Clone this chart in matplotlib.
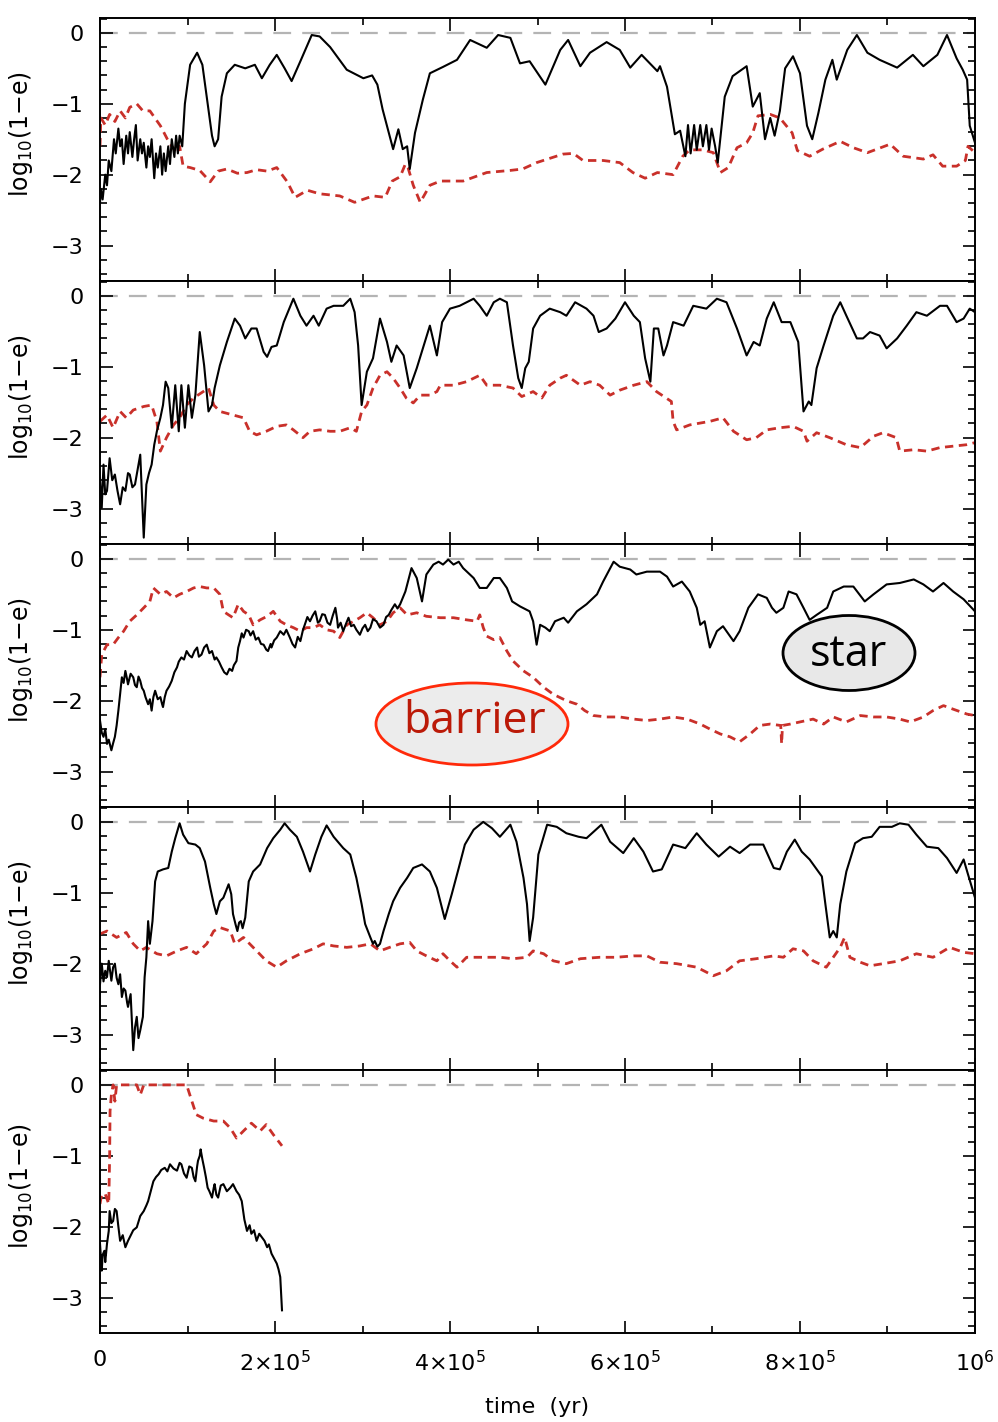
import numpy as np
import matplotlib
matplotlib.use('Agg')
import matplotlib.pyplot as plt
from matplotlib.patches import Ellipse
from matplotlib.ticker import MultipleLocator

# time in kyr, values are log10(1-e)
# ---------------- panel 1 ----------------
star_t1 = [0, 1, 3, 6, 8, 10, 13, 16, 18, 21, 23, 25, 27, 30, 32, 34, 37, 39, 41, 43, 46, 48, 50,
           53, 55, 57, 59, 62, 64, 66, 69, 71, 73, 75, 78, 80, 82, 85, 87, 89, 91, 94, 97, 103, 111,
           117, 122, 128, 131, 135, 139, 145, 154, 166, 177, 185, 194, 202, 211, 219, 229, 242, 251,
           263, 282, 301, 311, 317, 323, 335, 341, 346, 351, 354, 360, 369, 377, 392, 408, 423, 442,
           455, 469, 480, 491, 509, 526, 535, 549, 560, 579, 594, 606, 619, 637, 640, 648, 657, 663,
           669, 672, 675, 679, 682, 686, 689, 693, 696, 699, 703, 706, 714, 723, 739, 746, 754, 760,
           766, 771, 777, 783, 792, 800, 808, 814, 821, 829, 837, 842, 854, 865, 877, 891, 911, 929,
           941, 957, 968, 979, 986, 991, 994, 1000]
star_y1 = [-2.4, -2.2, -2.35, -2.0, -2.15, -1.8, -1.95, -1.5, -1.7, -1.35, -1.6, -1.5, -1.85, -1.45,
           -1.7, -1.4, -1.75, -1.5, -1.3, -1.8, -1.5, -1.7, -1.55, -1.9, -1.6, -1.75, -1.5, -2.05,
           -1.7, -1.9, -1.6, -2.0, -1.7, -1.95, -1.6, -1.85, -1.5, -1.75, -1.45, -1.7, -1.45, -1.6,
           -1.0, -0.45, -0.28, -0.45, -0.9, -1.45, -1.6, -1.5, -0.9, -0.57, -0.45, -0.5, -0.45,
           -0.64, -0.45, -0.31, -0.5, -0.68, -0.4, -0.03, -0.05, -0.2, -0.52, -0.64, -0.6, -0.73,
           -1.08, -1.64, -1.36, -1.64, -1.6, -1.92, -1.41, -0.94, -0.57, -0.48, -0.38, -0.1, -0.21,
           -0.03, -0.07, -0.43, -0.4, -0.73, -0.24, -0.1, -0.47, -0.28, -0.13, -0.24, -0.49, -0.31,
           -0.54, -0.47, -0.76, -1.43, -1.38, -1.74, -1.3, -1.7, -1.3, -1.65, -1.3, -1.6, -1.3,
           -1.65, -1.35, -1.6, -1.83, -0.9, -0.61, -0.47, -1.04, -0.85, -1.5, -1.2, -1.45, -1.1,
           -0.5, -0.33, -0.57, -1.31, -1.5, -1.13, -0.66, -0.38, -0.66, -0.24, -0.03, -0.28, -0.38,
           -0.49, -0.31, -0.47, -0.31, -0.03, -0.36, -0.52, -0.66, -1.31, -1.55]
bar_t1 = [0, 1, 6, 11, 17, 23, 29, 34, 42, 49, 57, 69, 77, 82, 88, 91, 95, 103, 114, 126, 135, 145,
          157, 168, 179, 191, 202, 214, 223, 237, 251, 274, 291, 312, 326, 334, 343, 349, 352, 358,
          366, 377, 389, 415, 442, 469, 483, 499, 529, 541, 552, 575, 594, 609, 623, 637, 655, 666,
          674, 689, 701, 709, 718, 728, 739, 746, 752, 766, 777, 791, 797, 811, 826, 846, 861, 877,
          903, 918, 941, 952, 963, 979, 989, 992, 1000]
bar_y1 = [-1.6, -1.2, -1.3, -1.15, -1.25, -1.1, -1.2, -1.05, -1.0, -1.1, -1.1, -1.31, -1.5, -1.6,
          -1.69, -1.6, -1.88, -1.9, -1.94, -2.1, -1.95, -1.92, -1.98, -1.97, -1.93, -1.95, -1.9,
          -2.1, -2.32, -2.22, -2.27, -2.3, -2.39, -2.3, -2.32, -2.09, -2.03, -1.85, -1.9, -2.15,
          -2.39, -2.15, -2.09, -2.09, -1.97, -1.94, -1.92, -1.83, -1.71, -1.7, -1.8, -1.8, -1.83,
          -1.97, -2.05, -1.97, -2.0, -1.74, -1.65, -1.65, -1.69, -1.97, -1.9, -1.62, -1.55, -1.41,
          -1.17, -1.15, -1.2, -1.41, -1.66, -1.74, -1.64, -1.53, -1.62, -1.69, -1.57, -1.74, -1.78,
          -1.72, -1.88, -1.88, -1.8, -1.6, -1.69]

# ---------------- panel 2 ----------------
star_t2 = [0, 2, 4, 6, 8, 10, 11, 14, 17, 20, 23, 26, 29, 32, 34, 37, 40, 43, 46, 50, 53, 56, 59,
           62, 65, 69, 72, 75, 78, 82, 86, 90, 93, 97, 101, 105, 109, 114, 119, 124, 128, 131, 137,
           145, 154, 160, 166, 173, 179, 187, 191, 196, 202, 210, 221, 229, 236, 244, 250, 259, 267,
           278, 286, 291, 295, 299, 305, 312, 320, 328, 333, 339, 347, 354, 362, 370, 377, 385, 391,
           400, 411, 427, 434, 442, 450, 457, 465, 472, 478, 482, 486, 490, 495, 503, 514, 526, 533,
           543, 556, 564, 570, 579, 589, 600, 610, 617, 623, 629, 633, 638, 644, 648, 655, 667, 678,
           693, 705, 716, 728, 739, 747, 754, 762, 770, 779, 789, 798, 804, 810, 813, 819, 827, 838,
           846, 853, 865, 872, 880, 891, 899, 911, 922, 933, 945, 960, 968, 979, 987, 994, 1000]
star_y2 = [-2.57, -2.99, -2.38, -2.8, -2.75, -2.45, -2.29, -2.6, -2.52, -2.75, -2.94, -2.7, -2.75,
           -2.5, -2.52, -2.7, -2.66, -2.45, -2.24, -3.41, -2.66, -2.5, -2.38, -2.1, -1.91, -1.72,
           -1.54, -1.21, -1.3, -1.86, -1.26, -1.91, -1.26, -1.86, -1.26, -1.72, -1.4, -0.51, -0.98,
           -1.63, -1.54, -1.3, -0.98, -0.65, -0.32, -0.42, -0.6, -0.46, -0.46, -0.79, -0.86, -0.72,
           -0.7, -0.37, -0.04, -0.28, -0.42, -0.28, -0.42, -0.18, -0.14, -0.14, -0.04, -0.23, -0.7,
           -1.54, -1.07, -0.88, -0.32, -0.65, -0.93, -0.7, -0.84, -1.3, -1.02, -0.7, -0.42, -0.84,
           -0.37, -0.18, -0.14, -0.04, -0.14, -0.28, -0.09, -0.04, -0.09, -0.7, -1.16, -1.3, -1.02,
           -0.93, -0.46, -0.28, -0.18, -0.23, -0.28, -0.09, -0.18, -0.28, -0.51, -0.46, -0.32,
           -0.09, -0.28, -0.37, -0.88, -1.21, -0.46, -0.46, -0.84, -0.7, -0.37, -0.42, -0.14, -0.18,
           -0.04, -0.09, -0.46, -0.84, -0.65, -0.7, -0.32, -0.09, -0.37, -0.37, -0.65, -1.63, -1.49,
           -1.54, -1.02, -0.7, -0.28, -0.09, -0.28, -0.6, -0.6, -0.51, -0.56, -0.74, -0.6, -0.42,
           -0.23, -0.28, -0.14, -0.14, -0.37, -0.32, -0.18, -0.23]
bar_t2 = [0, 8, 15, 23, 30, 38, 50, 59, 65, 69, 76, 84, 91, 99, 107, 118, 124, 130, 137, 152, 164,
          171, 179, 190, 202, 213, 221, 232, 240, 251, 263, 274, 286, 293, 299, 305, 312, 320, 328,
          335, 343, 350, 358, 366, 377, 385, 389, 404, 419, 434, 442, 457, 472, 482, 495, 505, 514,
          526, 533, 549, 560, 571, 583, 594, 610, 625, 636, 653, 655, 659, 674, 697, 712, 724, 739,
          750, 762, 777, 792, 804, 808, 819, 834, 853, 869, 884, 895, 910, 914, 930, 945, 960, 975,
          990, 1000]
bar_y2 = [-1.77, -1.68, -1.86, -1.63, -1.72, -1.61, -1.56, -1.54, -1.77, -2.19, -2.0, -1.82, -1.72,
          -1.54, -1.44, -1.35, -1.3, -1.54, -1.63, -1.68, -1.72, -1.91, -1.96, -1.91, -1.84, -1.82,
          -1.89, -2.0, -1.91, -1.89, -1.91, -1.91, -1.86, -1.91, -1.63, -1.54, -1.3, -1.12, -1.07,
          -1.16, -1.3, -1.44, -1.51, -1.4, -1.4, -1.35, -1.26, -1.26, -1.21, -1.12, -1.26, -1.26,
          -1.3, -1.42, -1.35, -1.44, -1.26, -1.16, -1.12, -1.26, -1.21, -1.26, -1.4, -1.33, -1.26,
          -1.21, -1.35, -1.49, -1.77, -1.89, -1.82, -1.77, -1.72, -1.91, -2.03, -2.0, -1.89, -1.86,
          -1.84, -1.91, -2.05, -1.93, -2.0, -2.1, -2.14, -1.98, -1.93, -2.0, -2.19, -2.17, -2.19,
          -2.14, -2.12, -2.1, -2.07]

# ---------------- panel 3 ----------------
star_t3 = [0, 2, 4, 6, 8, 10, 13, 15, 17, 19, 21, 23, 25, 27, 29, 31, 32, 35, 38, 40, 42, 44, 46,
           48, 50, 52, 55, 57, 59, 61, 63, 66, 69, 71, 72, 74, 76, 79, 82, 85, 88, 90, 93, 96, 99,
           102, 105, 108, 111, 113, 116, 119, 122, 125, 128, 131, 133, 136, 139, 142, 145, 148, 151,
           153, 156, 158, 160, 162, 164, 167, 170, 172, 175, 178, 181, 184, 187, 190, 192, 195, 196,
           199, 202, 206, 210, 213, 217, 220, 223, 226, 229, 232, 234, 237, 240, 243, 246, 249, 251,
           254, 257, 260, 263, 266, 269, 271, 272, 275, 278, 281, 284, 287, 290, 293, 297, 300, 303,
           306, 309, 312, 316, 320, 324, 327, 330, 333, 337, 340, 343, 346, 349, 356, 362, 368, 373,
           381, 387, 392, 398, 404, 410, 415, 427, 434, 442, 450, 457, 465, 471, 480, 491, 495, 499,
           503, 509, 514, 520, 530, 535, 545, 556, 568, 575, 587, 594, 606, 613, 625, 640, 648, 655,
           665, 674, 682, 686, 691, 697, 705, 712, 724, 731, 741, 752, 762, 768, 773, 781, 787, 796,
           804, 811, 819, 831, 838, 850, 861, 874, 884, 899, 914, 930, 941, 952, 964, 975, 987, 1000]
star_y3 = [-2.28, -2.45, -2.51, -2.4, -2.61, -2.55, -2.7, -2.6, -2.51, -2.35, -2.14, -1.9, -1.67,
           -1.75, -1.58, -1.7, -1.77, -1.62, -1.67, -1.78, -1.81, -1.66, -1.72, -1.82, -1.86, -1.95,
           -2.05, -1.98, -2.14, -1.95, -1.86, -1.98, -1.95, -2.05, -2.09, -1.95, -1.86, -1.8, -1.72,
           -1.6, -1.53, -1.45, -1.39, -1.42, -1.3, -1.36, -1.39, -1.3, -1.25, -1.38, -1.35, -1.25,
           -1.21, -1.33, -1.3, -1.42, -1.39, -1.45, -1.53, -1.6, -1.63, -1.55, -1.58, -1.5, -1.44,
           -1.25, -1.16, -1.05, -1.11, -1.0, -1.02, -1.08, -1.02, -1.14, -1.11, -1.2, -1.21, -1.28,
           -1.3, -1.2, -1.25, -1.15, -1.11, -1.02, -1.07, -1.0, -1.11, -1.2, -1.25, -1.1, -1.16,
           -1.0, -0.93, -0.82, -0.88, -0.8, -0.74, -0.9, -0.88, -0.78, -0.79, -0.9, -0.93, -0.8,
           -0.69, -0.85, -0.97, -0.9, -1.02, -0.92, -0.83, -0.95, -0.93, -1.0, -1.07, -0.98, -0.93,
           -1.02, -0.97, -0.85, -0.88, -0.97, -0.93, -0.82, -0.79, -0.72, -0.64, -0.7, -0.64, -0.55,
           -0.46, -0.13, -0.27, -0.6, -0.22, -0.08, -0.04, -0.08, -0.01, -0.08, -0.04, -0.13, -0.27,
           -0.41, -0.41, -0.27, -0.27, -0.41, -0.6, -0.67, -0.74, -0.88, -1.21, -0.93, -0.97, -1.02,
           -0.88, -0.83, -0.9, -0.74, -0.64, -0.5, -0.32, -0.04, -0.11, -0.15, -0.22, -0.18, -0.18,
           -0.25, -0.39, -0.32, -0.46, -0.69, -0.93, -0.88, -1.25, -1.02, -0.95, -1.16, -1.02,
           -0.69, -0.5, -0.55, -0.69, -0.76, -0.69, -0.46, -0.5, -0.69, -0.86, -0.79, -0.69, -0.46,
           -0.39, -0.39, -0.6, -0.5, -0.36, -0.34, -0.29, -0.36, -0.46, -0.34, -0.46, -0.57, -0.74]
bar_t3 = [0, 2, 8, 15, 21, 27, 34, 42, 50, 57, 61, 69, 76, 84, 91, 99, 107, 114, 122, 130, 137,
          141, 147, 152, 158, 164, 170, 175, 183, 191, 198, 206, 213, 221, 229, 236, 244, 251, 259,
          267, 274, 282, 290, 297, 305, 312, 320, 328, 335, 343, 351, 362, 373, 389, 404, 419, 431,
          434, 438, 442, 450, 457, 465, 472, 484, 495, 507, 518, 533, 545, 554, 564, 579, 594, 610,
          625, 640, 655, 671, 686, 697, 709, 720, 731, 743, 754, 766, 778, 779, 780, 789, 800, 815,
          827, 838, 853, 869, 884, 899, 914, 926, 941, 952, 964, 975, 991, 1000]
bar_y3 = [-1.67, -1.35, -1.21, -1.21, -1.11, -1.02, -0.88, -0.79, -0.69, -0.6, -0.41, -0.5, -0.46,
          -0.55, -0.5, -0.46, -0.41, -0.39, -0.41, -0.41, -0.5, -0.74, -0.79, -0.83, -0.64, -0.74,
          -0.79, -0.93, -0.86, -0.81, -0.74, -0.88, -0.93, -0.97, -1.02, -0.97, -0.97, -0.93, -1.0,
          -1.02, -1.11, -0.93, -0.88, -0.83, -0.76, -0.83, -0.93, -0.88, -0.76, -0.69, -0.79, -0.76,
          -0.81, -0.83, -0.83, -0.86, -0.88, -0.79, -0.97, -1.09, -1.14, -1.11, -1.3, -1.44, -1.58,
          -1.67, -1.81, -1.91, -2.0, -2.05, -2.14, -2.21, -2.23, -2.23, -2.26, -2.28, -2.26, -2.23,
          -2.26, -2.33, -2.4, -2.47, -2.51, -2.58, -2.47, -2.35, -2.33, -2.35, -2.61, -2.35, -2.33,
          -2.3, -2.26, -2.33, -2.23, -2.3, -2.21, -2.23, -2.23, -2.26, -2.3, -2.23, -2.14, -2.07,
          -2.12, -2.19, -2.21]

# ---------------- panel 4 ----------------
star_t4 = [0, 2, 4, 6, 8, 10, 12, 13, 15, 17, 19, 21, 23, 25, 27, 29, 31, 32, 35, 38, 40, 42, 44,
           46, 49, 51, 53, 55, 57, 60, 63, 66, 72, 78, 82, 86, 91, 95, 101, 109, 114, 120, 126, 130,
           133, 137, 141, 147, 150, 152, 155, 157, 159, 161, 163, 166, 170, 175, 183, 191, 198, 206,
           211, 217, 225, 232, 240, 246, 253, 259, 267, 278, 286, 293, 299, 303, 309, 312, 314, 317,
           320, 324, 330, 335, 343, 351, 358, 368, 377, 385, 394, 402, 410, 417, 427, 438, 448, 457,
           469, 476, 484, 488, 491, 495, 501, 511, 522, 533, 547, 556, 564, 573, 583, 598, 610, 621,
           632, 642, 655, 669, 682, 693, 707, 720, 731, 743, 758, 770, 777, 785, 794, 802, 811, 825,
           829, 834, 838, 842, 846, 853, 863, 872, 882, 891, 905, 914, 924, 933, 945, 958, 968, 979,
           987, 992, 1000]
star_y4 = [-2.29, -2.0, -2.25, -2.1, -2.19, -1.96, -2.15, -2.24, -2.05, -2.0, -2.2, -2.29, -2.15,
           -2.47, -2.35, -2.38, -2.55, -2.61, -2.43, -3.22, -2.9, -2.75, -3.05, -2.94, -2.75, -2.19,
           -1.91, -1.4, -1.72, -1.4, -0.84, -0.7, -0.67, -0.65, -0.42, -0.23, -0.02, -0.18, -0.3,
           -0.32, -0.37, -0.56, -0.93, -1.16, -1.3, -1.12, -1.07, -0.88, -1.02, -1.3, -1.45, -1.54,
           -1.42, -1.4, -1.5, -1.35, -0.84, -0.7, -0.6, -0.37, -0.23, -0.11, -0.02, -0.11, -0.21,
           -0.42, -0.7, -0.46, -0.21, -0.05, -0.21, -0.37, -0.46, -0.79, -1.16, -1.44, -1.63, -1.72,
           -1.68, -1.76, -1.72, -1.54, -1.3, -1.12, -0.93, -0.79, -0.65, -0.6, -0.7, -0.93, -1.37,
           -1.02, -0.65, -0.32, -0.11, 0.0, -0.09, -0.21, -0.04, -0.28, -0.79, -1.16, -1.68, -1.35,
           -0.46, -0.04, -0.07, -0.16, -0.21, -0.23, -0.14, -0.04, -0.28, -0.44, -0.23, -0.42, -0.7,
           -0.67, -0.32, -0.37, -0.16, -0.32, -0.49, -0.35, -0.44, -0.32, -0.32, -0.65, -0.67, -0.42,
           -0.25, -0.42, -0.53, -0.77, -1.16, -1.63, -1.54, -1.63, -1.16, -0.7, -0.3, -0.23, -0.21,
           -0.07, -0.07, -0.02, -0.04, -0.18, -0.35, -0.37, -0.51, -0.72, -0.53, -0.74, -1.07]
bar_t4 = [0, 8, 19, 30, 38, 46, 53, 65, 76, 88, 99, 110, 122, 130, 137, 149, 154, 164, 171, 179,
          190, 202, 213, 229, 244, 255, 267, 282, 297, 309, 320, 331, 343, 354, 362, 373, 385, 392,
          400, 408, 419, 438, 457, 472, 488, 495, 507, 518, 533, 549, 571, 590, 610, 625, 640, 659,
          682, 701, 716, 731, 750, 770, 781, 792, 804, 815, 830, 838, 846, 851, 857, 869, 880, 895,
          914, 933, 952, 971, 987, 1000]
bar_y4 = [-1.58, -1.54, -1.63, -1.56, -1.72, -1.82, -1.77, -1.86, -1.89, -1.82, -1.77, -1.86, -1.72,
          -1.54, -1.49, -1.54, -1.72, -1.63, -1.72, -1.82, -1.96, -2.05, -1.96, -1.86, -1.79, -1.72,
          -1.75, -1.77, -1.75, -1.72, -1.82, -1.77, -1.72, -1.7, -1.82, -1.89, -1.96, -1.86, -1.96,
          -2.05, -1.91, -1.91, -1.91, -1.93, -1.91, -1.82, -1.86, -1.96, -2.0, -1.93, -1.91, -1.91,
          -1.89, -1.89, -1.98, -2.0, -2.05, -2.17, -2.1, -1.96, -1.93, -1.89, -1.91, -1.79, -1.82,
          -1.96, -2.05, -1.91, -1.77, -1.63, -1.91, -1.98, -2.03, -2.0, -1.96, -1.86, -1.91, -1.77,
          -1.84, -1.86]

# ---------------- panel 5 ----------------
star_t5 = [0, 2, 3, 5, 6, 8, 10, 11, 13, 15, 17, 19, 21, 23, 26, 29, 32, 34, 38, 42, 46, 50, 53,
           55, 58, 61, 64, 67, 70, 74, 77, 80, 84, 88, 91, 93, 96, 99, 102, 105, 107, 109, 111, 112,
           114, 115, 117, 119, 121, 123, 125, 128, 130, 131, 133, 135, 138, 141, 145, 149, 152, 156,
           159, 162, 165, 168, 171, 173, 176, 179, 182, 185, 188, 191, 193, 196, 199, 202, 204, 206,
           208]
star_y5 = [-2.24, -2.62, -2.4, -2.34, -2.5, -2.24, -2.06, -1.78, -1.95, -1.92, -1.75, -1.78, -2.0,
           -2.2, -2.12, -2.29, -2.2, -2.15, -2.05, -2.01, -1.85, -1.78, -1.7, -1.64, -1.5, -1.36,
           -1.3, -1.26, -1.2, -1.17, -1.22, -1.12, -1.18, -1.21, -1.1, -1.12, -1.25, -1.31, -1.15,
           -1.17, -1.3, -1.36, -1.15, -1.07, -1.0, -0.91, -1.05, -1.17, -1.3, -1.45, -1.5, -1.59,
           -1.45, -1.4, -1.55, -1.59, -1.42, -1.4, -1.5, -1.45, -1.4, -1.5, -1.55, -1.64, -1.9,
           -2.06, -1.98, -2.1, -2.05, -2.2, -2.1, -2.15, -2.2, -2.29, -2.25, -2.38, -2.45, -2.52,
           -2.6, -2.71, -3.18]
bar_t5 = [0, 2, 6, 10, 11, 11.5, 13, 15, 17, 19, 30, 42, 46, 50, 76, 99, 105, 110, 118, 130, 141,
          149, 156, 164, 173, 183, 190, 198, 208]
bar_y5 = [-1.68, -1.54, -1.54, -1.68, -1.03, -0.37, -0.14, 0.0, -0.23, 0.0, 0.0, 0.0, -0.14, 0.0,
          0.0, 0.0, -0.23, -0.42, -0.47, -0.51, -0.51, -0.61, -0.75, -0.65, -0.54, -0.65, -0.56,
          -0.7, -0.86]

star_runs = [(star_t1, star_y1), (star_t2, star_y2), (star_t3, star_y3), (star_t4, star_y4), (star_t5, star_y5)]
barrier_runs = [(bar_t1, bar_y1), (bar_t2, bar_y2), (bar_t3, bar_y3), (bar_t4, bar_y4), (bar_t5, bar_y5)]

x_ticks = [0, 2e5, 4e5, 6e5, 8e5, 1e6]
x_tick_labels = ['0', '2\u00d710$^{5}$', '4\u00d710$^{5}$', '6\u00d710$^{5}$',
                 '8\u00d710$^{5}$', '10$^{6}$']
y_ticks = [-3, -2, -1, 0]
y_tick_labels = ['\u22123', '\u22122', '\u22121', '0']

plt.rcParams['font.family'] = ['DejaVu Sans']
plt.rcParams['mathtext.fontset'] = 'dejavusans'

fig = plt.figure(figsize=(9.98, 14.22), dpi=100)

left, width = 100 / 998, 875 / 998
panel_h = 263 / 1422
bottom0 = 1 - 1333 / 1422

red = '#c9302a'
axes = []
for i in range(5):
    bottom = bottom0 + (4 - i) * panel_h
    ax = fig.add_axes([left, bottom, width, panel_h])
    axes.append(ax)

    # dashed reference line at e = 0.9 ... i.e. log10(1-e) = 0
    ax.axhline(0, color='#b4b4b4', lw=1.6, dashes=(8, 5), zorder=1)

    t, y = star_runs[i]
    ax.plot(np.array(t) * 1e3, y, color='black', lw=1.5, zorder=3)
    t, y = barrier_runs[i]
    ax.plot(np.array(t) * 1e3, y, color=red, lw=2.0, dashes=(3, 2), zorder=2)

    ax.set_xlim(0, 1e6)
    ax.set_ylim(-3.5, 0.21)
    ax.set_xticks(x_ticks)
    ax.xaxis.set_minor_locator(MultipleLocator(1e5))
    ax.set_yticks(y_ticks)
    ax.yaxis.set_minor_locator(MultipleLocator(0.2))
    ax.set_yticklabels(y_tick_labels)
    if i < 4:
        ax.set_xticklabels([])
    else:
        ax.set_xticklabels(x_tick_labels)

    ax.tick_params(which='both', direction='in', top=True, right=True, width=1.2,
                   labelsize=16, colors='black')
    ax.tick_params(which='major', length=9, pad=12)
    ax.tick_params(which='minor', length=5)
    for s in ax.spines.values():
        s.set_linewidth(1.4)

    ax.set_ylabel(r'log$_{10}$(1$-$e)', fontsize=17)
    ax.yaxis.set_label_coords(-0.074, 0.557)

axes[-1].set_xlabel('time  (yr)', fontsize=16)
axes[-1].xaxis.set_label_coords(0.5, -0.245)

# annotation bubbles
fig.patches.append(Ellipse((849 / 998, 1 - 653 / 1422), 132 / 998, 75 / 1422,
                           transform=fig.transFigure, facecolor='#e8e8e8',
                           edgecolor='black', lw=2, zorder=10))
fig.text(848 / 998, 1 - 655 / 1422, 'star', fontsize=31, family='Open Sans',
         ha='center', va='center', color='black', zorder=11)

fig.patches.append(Ellipse((472 / 998, 1 - 724 / 1422), 192 / 998, 82 / 1422,
                           transform=fig.transFigure, facecolor='#ececec',
                           edgecolor='#ff2a0a', lw=2, zorder=10))
fig.text(475 / 998, 1 - 722 / 1422, 'barrier', fontsize=32, family='Open Sans',
         ha='center', va='center', color='#bb1a08', zorder=11)

fig.savefig('out.png', dpi=100)
